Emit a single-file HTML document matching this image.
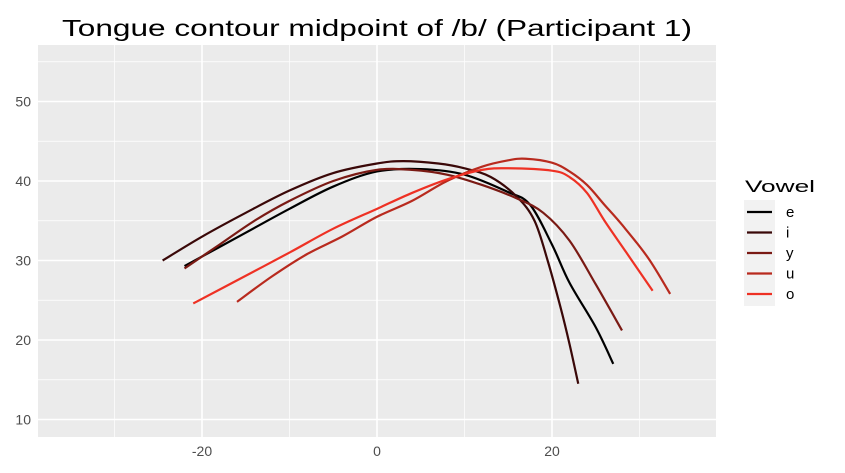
<!DOCTYPE html>
<html><head><meta charset="utf-8"><style>
body{margin:0;background:#fff;}
svg{display:block;font-family:"Liberation Sans",sans-serif;}
</style></head><body>
<svg id="chart" width="845" height="473">
<rect x="38" y="45" width="678" height="392" fill="#ebebeb"/>
<g id="grid"></g><g id="series"></g><g id="axes"></g>
<text x="62" y="36" textLength="630" lengthAdjust="spacingAndGlyphs" font-size="23" fill="#000">Tongue contour midpoint of /b/ (Participant 1)</text>
<g id="legend">
<text x="745" y="192" font-size="17" textLength="70" lengthAdjust="spacingAndGlyphs" fill="#000">Vowel</text>
<rect x="744" y="200" width="31" height="106" fill="#f2f2f2"/>
</g>
</svg>
<script>
const vowels=["e","i","y","u","o"];
const colors=["#000000","#3a0808","#7a1a14","#b82a1e","#ee3124"];
const eX=[-22,-15,-10,-5,0,5,10,15,17.5,20,22,25,27];
const eY=[29.3,33.5,36.5,39.3,41.2,41.5,40.8,38.6,37,32,27.2,21.6,17];
const iX=[-24.5,-20,-15,-10,-5,0,3,7,10,13,16,18,19.5,21,22,23];
const iY=[30,33,36,38.8,41,42.2,42.5,42.2,41.6,40.5,38,35,30,24,19.5,14.5];
const yX=[-22,-18,-14,-10,-5,0,4,8,12,16,19,22,25,28];
const yY=[29,32,35,37.5,40,41.4,41.4,40.8,39.5,37.8,36,32.5,27,21.2];
const uX=[-16,-12,-8,-4,0,4,8,12,15,17,20,22,24,26,28,31,33.5];
const uY=[24.8,28,30.8,33,35.5,37.5,40,41.8,42.6,42.8,42.3,41.2,39.5,37,34.5,30.3,25.8];
const oX=[-21,-16,-10,-5,0,4,8,12,15,20,22,24,26,28.5,31.5];
const oY=[24.6,27.5,31,34,36.5,38.5,40.2,41.4,41.6,41.3,40.5,38.5,35,31,26.2];
const xTicks=[-20,0,20];
const yTicks=[10,20,30,40,50];
const xMinor=[-30,-10,10,30];
const yMinor=[15,25,35,45,55];
const NS="http://www.w3.org/2000/svg";
const sx=v=>377+v*8.75;
const sy=v=>181-(v-40)*7.95;
function mk(t,a,p){const e=document.createElementNS(NS,t);for(const k in a)e.setAttribute(k,a[k]);p.appendChild(e);return e;}
const grid=document.getElementById('grid'),axes=document.getElementById('axes'),ser=document.getElementById('series'),leg=document.getElementById('legend');
xMinor.forEach(v=>{const l=mk('line',{x1:sx(v),x2:sx(v),y1:45,y2:437,stroke:'#fff','stroke-width':0.7},grid);

});
yMinor.forEach(v=>{const l=mk('line',{x1:38,x2:716,y1:sy(v),y2:sy(v),stroke:'#fff','stroke-width':0.7},grid);

});
xTicks.forEach(v=>{const l=mk('line',{x1:sx(v),x2:sx(v),y1:45,y2:437,stroke:'#fff','stroke-width':1.6},grid);


const t=mk('text',{x:sx(v),y:456,'text-anchor':'middle','font-size':14,fill:'#4d4d4d'},axes);t.textContent=v;

});
yTicks.forEach(v=>{const l=mk('line',{x1:38,x2:716,y1:sy(v),y2:sy(v),stroke:'#fff','stroke-width':1.6},grid);


const t=mk('text',{x:31,y:sy(v)+5,'text-anchor':'end','font-size':14,fill:'#4d4d4d'},axes);t.textContent=v;

});
function pathD(X,Y){const p=X.map((x,i)=>[sx(x),sy(Y[i])]);let d=`M${p[0][0]},${p[0][1]}`;
for(let i=0;i<p.length-1;i++){const p0=p[i-1]||p[i],p1=p[i],p2=p[i+1],p3=p[i+2]||p2;
d+=` C${p1[0]+(p2[0]-p0[0])/6},${p1[1]+(p2[1]-p0[1])/6} ${p2[0]-(p3[0]-p1[0])/6},${p2[1]-(p3[1]-p1[1])/6} ${p2[0]},${p2[1]}`;}return d;}
const data=[[eX,eY],[iX,iY],[yX,yY],[uX,uY],[oX,oY]];
data.forEach((s,k)=>{const p=mk('path',{d:pathD(s[0],s[1]),fill:'none',stroke:colors[k],'stroke-width':2.2},ser);


const y=212+k*20.5;
const l=mk('line',{x1:747,x2:772,y1:y,y2:y,stroke:colors[k],'stroke-width':2.2},leg);


const t=mk('text',{x:786,y:y+5,'font-size':15,fill:'#000'},leg);t.textContent=vowels[k];

});
</script>
</body></html>
